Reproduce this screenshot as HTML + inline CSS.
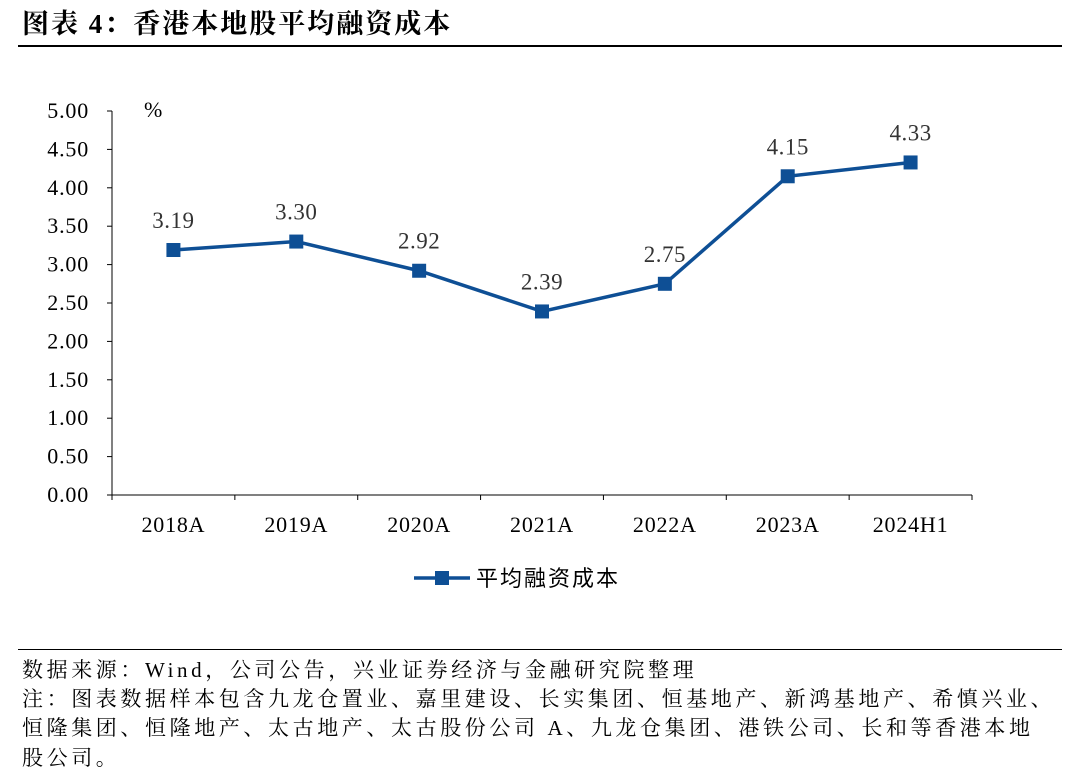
<!DOCTYPE html>
<html><head><meta charset="utf-8"><style>
body{margin:0;width:1080px;height:783px;background:#fff;overflow:hidden;font-family:"Liberation Serif","Noto Serif CJK SC",serif;}
#title{position:absolute;left:22px;top:2px;font-size:27px;letter-spacing:2px;font-weight:bold;color:#000;}
#rule1{position:absolute;left:18px;top:45px;width:1044px;height:1.5px;background:#000;}
#rule2{position:absolute;left:18px;top:649px;width:1044px;height:1px;background:#000;}
.foot{position:absolute;left:22px;font-size:21px;letter-spacing:3.6px;color:#000;white-space:nowrap;}
</style></head><body>
<div id="title">图表 4：香港本地股平均融资成本</div>
<div id="rule1"></div>
<svg id="chart" width="1080" height="640" style="position:absolute;left:0;top:0"></svg>
<div id="rule2"></div>
<div class="foot" style="top:654px">数据来源：Wind，公司公告，兴业证券经济与金融研究院整理</div>
<div class="foot" style="top:683px">注：图表数据样本包含九龙仓置业、嘉里建设、长实集团、恒基地产、新鸿基地产、希慎兴业、</div>
<div class="foot" style="top:712px">恒隆集团、恒隆地产、太古地产、太古股份公司 A、九龙仓集团、港铁公司、长和等香港本地</div>
<div class="foot" style="top:742px">股公司。</div>
<script>
const categories=["2018A","2019A","2020A","2021A","2022A","2023A","2024H1"];
const values=[3.19,3.30,2.92,2.39,2.75,4.15,4.33];
const ticks=[0,0.5,1,1.5,2,2.5,3,3.5,4,4.5,5];
const svg=document.getElementById('chart');
const NS='http://www.w3.org/2000/svg';
const x0=112,x1=972,yb=495,yt=111,ymax=5;
const bw=(x1-x0)/categories.length;
const X=i=>x0+bw*(i+0.5);
const Y=v=>yb-(v/ymax)*(yb-yt);
function el(t,a){const e=document.createElementNS(NS,t);for(const k in a)e.setAttribute(k,a[k]);svg.appendChild(e);return e;}
let e=el('line',{x1:x0,y1:yt,x2:x0,y2:yb,stroke:'#000','stroke-width':1});


e=el('line',{x1:x0,y1:yb,x2:x1,y2:yb,stroke:'#000','stroke-width':1});


ticks.forEach(t=>{
 el('line',{x1:x0-5,y1:Y(t),x2:x0,y2:Y(t),stroke:'#000'});
 const tx=el('text',{x:x0-23,y:Y(t)+7,'text-anchor':'end','font-size':22,'letter-spacing':0.8,'font-family':'Liberation Serif, serif'});
 tx.textContent=t.toFixed(2);
 
 
});
const u=el('text',{x:144,y:117,'font-size':22,'font-family':'Liberation Serif, serif'});u.textContent='%';


for(let i=0;i<=categories.length;i++)el('line',{x1:x0+bw*i,y1:yb,x2:x0+bw*i,y2:yb+5,stroke:'#000'});
categories.forEach((c,i)=>{
 const tx=el('text',{x:X(i),y:532,'text-anchor':'middle','font-size':22,'letter-spacing':0.8,'font-family':'Liberation Serif, serif'});
 tx.textContent=c;
 
 
});
const line=el('polyline',{points:values.map((v,i)=>X(i)+','+Y(v)).join(' '),fill:'none',stroke:'#0e4f95','stroke-width':3.5});


values.forEach((v,i)=>{
 const r=el('rect',{x:X(i)-7,y:Y(v)-7,width:14,height:14,fill:'#0e4f95'});
 
 
 const t=el('text',{x:X(i),y:Y(v)-22,'text-anchor':'middle','font-size':23,'letter-spacing':0.5,fill:'#333','font-family':'Liberation Serif, serif'});
 t.textContent=v.toFixed(2);
 
 
});
const lg=el('line',{x1:414,y1:578,x2:470,y2:578,stroke:'#0e4f95','stroke-width':3.5});


el('rect',{x:435,y:571,width:14,height:14,fill:'#0e4f95'});
const lt=el('text',{x:476,y:586,'font-size':22,'letter-spacing':2,'font-family':'Liberation Sans, Noto Sans CJK SC, sans-serif'});
lt.textContent='平均融资成本';


</script>
</body></html>
